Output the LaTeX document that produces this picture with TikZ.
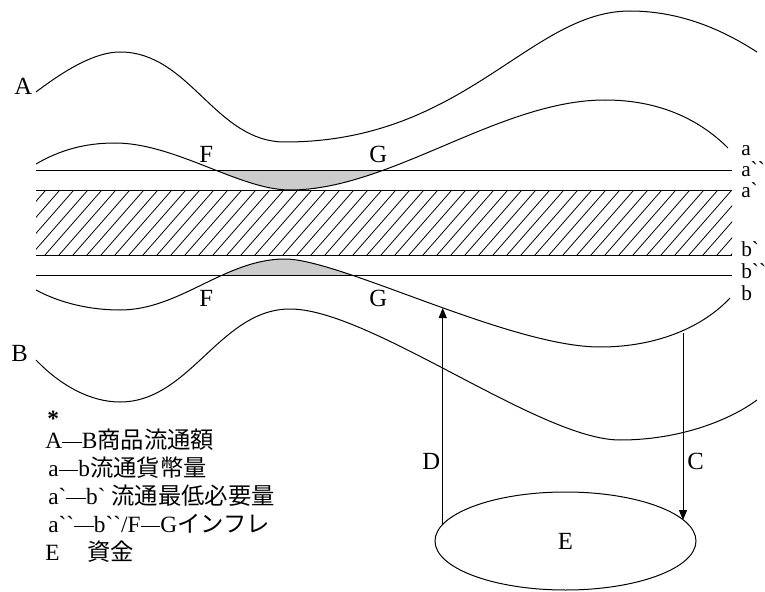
\documentclass[tikz,border=0pt]{standalone}
\usepackage{fontspec}
\setmainfont{Liberation Serif}
\newfontfamily\jp{Noto Sans CJK JP}
\usetikzlibrary{arrows.meta,shapes.geometric}
\newcommand\gv{\textasciigrave}
\newcommand\dsh{\rule[0.24em]{0.85em}{0.45pt}}
\begin{document}
\begin{tikzpicture}[x=0.75pt,y=-0.75pt,
  curve/.style={line width=0.75pt},
  hline/.style={line width=0.75pt},
  hatchline/.style={line width=0.6pt},
  lbl/.style={anchor=base west,inner sep=0pt,font=\fontsize{18.5}{20}\selectfont},
  rlbl/.style={anchor=base west,inner sep=0pt,font=\fontsize{16}{17}\selectfont},
  key/.style={anchor=base west,inner sep=0pt,font=\fontsize{17.5}{19}\selectfont},
  arr/.style={line width=0.75pt,-{Triangle[length=7.5pt,width=6pt]}},
  inflfill/.style={fill=gray!40},
  pool/.style={draw,ellipse,line width=0.75pt,minimum width=195.75pt,minimum height=73.5pt,inner sep=0pt,font=\fontsize{18.5}{20}\selectfont}]
\useasboundingbox (0,0) rectangle (765,592);

% shaded inflation areas
\begin{scope}
  \clip (36,164) .. controls (60,150) and (85,143) .. (115,143)
        .. controls (175,143) and (240,190) .. (290,190)
        .. controls (390,190) and (500,100) .. (605,100)
        -- (605,0) -- (36,0) -- cycle;
  \fill[inflfill] (150,171) rectangle (450,196);
\end{scope}
\begin{scope}
  \clip (36,290) .. controls (60,303) and (90,310) .. (120,310)
        .. controls (180,310) and (225,259) .. (285,259)
        .. controls (340,259) and (510,347) .. (600,347)
        -- (600,592) -- (36,592) -- cycle;
  \fill[inflfill] (150,250) rectangle (450,275);
\end{scope}

% hatched band
\begin{scope}
  \clip (36,191) rectangle (732,255);
  \foreach \x in {-39,-25,...,745} \draw[hatchline] (\x,255) -- (\x+56,191);
\end{scope}

% horizontal lines
\draw[hline] (36,171) -- (732,171);
\draw[hline] (36,191) -- (732,191);
\draw[hline] (36,255) -- (732,255);
\draw[hline] (36,275) -- (732,275);

% curve A
\draw[curve] (36,92) .. controls (65,70) and (95,52) .. (120,52)
  .. controls (190,52) and (215,142) .. (285,142)
  .. controls (465,142) and (530,11) .. (630,11)
  .. controls (690,11) and (735,38) .. (757,52);
% curve a
\draw[curve] (36,164) .. controls (60,150) and (85,143) .. (115,143)
  .. controls (175,143) and (240,190) .. (290,190)
  .. controls (390,190) and (500,100) .. (605,100)
  .. controls (660,100) and (700,120) .. (728,148);
% curve b
\draw[curve] (36,290) .. controls (60,303) and (90,310) .. (120,310)
  .. controls (180,310) and (225,259) .. (285,259)
  .. controls (340,259) and (510,347) .. (600,347)
  .. controls (660,347) and (705,325) .. (730,298);
% curve B
\draw[curve] (36,360) .. controls (60,385) and (90,402) .. (120,402)
  .. controls (190,402) and (220,309) .. (290,309)
  .. controls (370,309) and (540,440) .. (620,440)
  .. controls (680,440) and (730,420) .. (757,400);

% labels on curves
\node[lbl] (lA) at (14,95) {A};
\node[lbl] (lB) at (11,361) {B};
\node[lbl] (lF1) at (199,163) {F};
\node[lbl] (lG1) at (369,163) {G};
\node[lbl] (lF2) at (199,306) {F};
\node[lbl] (lG2) at (369,306) {G};

% right labels
\node[rlbl] (ra) at (741,156) {a};
\node[rlbl] (ra2) at (741,176) {a\gv\gv};
\node[rlbl] (ra1) at (741,197) {a\gv};
\node[rlbl] (rb1) at (741,257) {b\gv};
\node[rlbl] (rb2) at (741,278) {b\gv\gv};
\node[rlbl] (rb) at (741,300) {b};

% fund pool and arrows
\node[pool] (E) at (565.5,541) {E};
\coordinate (Dtip) at (443,308);
\coordinate (Cs) at (683,333);
\draw[arr] (E.172) -- (E.172 |- Dtip);
\draw[arr] (Cs) -- (Cs |- E.10);
\node[lbl] (lD) at (422,469) {D};
\node[lbl] (lC) at (687,469) {C};

% legend
\node[key] (k0) at (47,426) {\textbf{*}};
\node[key] (k1) at (45,448) {A\dsh B{\jp 商品流通額}};
\node[key] (k2) at (48,476) {a\dsh b{\jp 流通貨幣量}};
\node[key] (k3) at (48,504) {a\gv\dsh b\gv\ {\jp 流通最低必要量}};
\node[key] (k4) at (48,532) {a\gv\gv\dsh b\gv\gv/F\dsh G{\jp インフレ}};
\node[key] (k5) at (45,560) {E\hspace{1.2em}{\jp 資金}};
\end{tikzpicture}
\end{document}
